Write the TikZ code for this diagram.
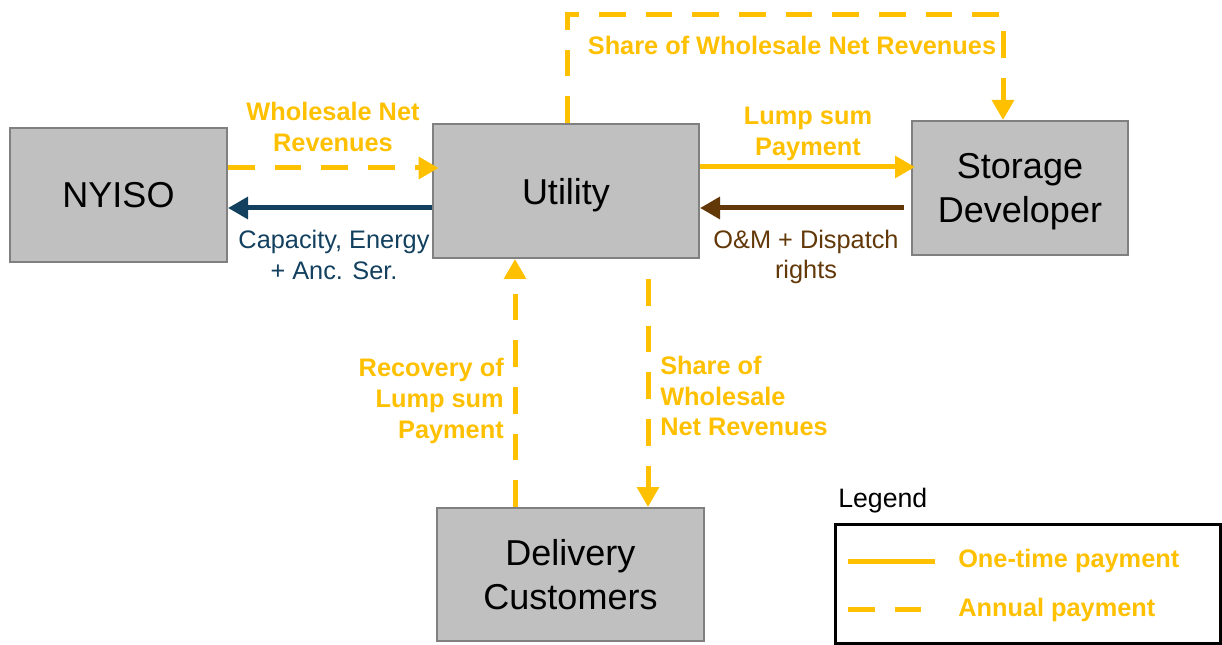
\documentclass[tikz,border=0pt]{standalone}
\usepackage{fontspec}
\setmainfont{Liberation Sans}
\usepackage{xcolor}
\usepackage{tikz}
\usetikzlibrary{arrows.meta}
\definecolor{paygold}{RGB}{255,192,0}
\definecolor{flowblue}{RGB}{18,64,94}
\definecolor{flowbrown}{RGB}{99,56,8}
\definecolor{boxgray}{RGB}{192,192,192}
\definecolor{edgegray}{RGB}{128,128,128}

\begin{document}
\begin{tikzpicture}[x=0.75pt, y=-0.75pt, every node/.style={font=\fontsize{19}{23}\selectfont}]
  \tikzstyle{party}=[rectangle, draw=edgegray, line width=1.5pt, fill=boxgray, align=center, font=\fontsize{27}{33}\selectfont, text depth=0pt, minimum height=100.5pt]
  \tikzstyle{flow}=[-{Triangle[length=15pt, width=16pt]}]
  \tikzstyle{onetime}=[paygold, line width=3.75pt]
  \tikzstyle{annual}=[onetime, dash pattern=on 20pt off 15pt]
  \tikzstyle{goldlbl}=[text=paygold, font=\bfseries\fontsize{19}{23}\selectfont, align=center, inner sep=0pt]
  \useasboundingbox (0,0) rectangle (1222,645);
  \node[party, minimum width=162.75pt] (nyiso) at (118.5,195) {NYISO};
  \node[party, minimum width=199.5pt] (utility) at (566,191) {Utility};
  \node[party, minimum width=162pt] (storage) at (1020,188) {Storage\\Developer};
  \node[party, minimum width=200.25pt, minimum height=99.75pt] (delivery) at (570.5,574.5) {Delivery\\Customers};
  \draw[annual, flow, shorten >=-5pt] (nyiso.east |- 0,168) -- (utility.west |- 0,168);
  \draw[flowblue, line width=3.75pt, flow] (utility.west |- 0,208) -- (nyiso.east |- 0,208);
  \draw[onetime, flow, shorten >=-3pt] (utility.east |- 0,167) -- (storage.west |- 0,167);
  \draw[flowbrown, line width=3.75pt, flow, shorten <=5pt] (storage.west |- 0,208) -- (utility.east |- 0,208);
  \draw[annual, flow] (utility.north -| 567,0) |- (1003,15) -- (storage.north -| 1003,0);
  \draw[annual, flow] (delivery.north -| 515,0) -- (utility.south -| 515,0);
  \draw[annual, flow, dash phase=20pt] (utility.south -| 648,0) -- (delivery.north -| 648,0);
  \node[goldlbl] (wnr) at (333,127) {Wholesale Net\\Revenues};
  \node[text=flowblue, align=center, inner sep=0pt] (cap) at (334,255) {Capacity, Energy\\+ Anc. Ser.};
  \node[goldlbl] (lump) at (808,134) {Lump sum\\Payment};
  \node[text=flowbrown, align=center, inner sep=0pt] (om) at (806,257) {O\&M + Dispatch\\rights};
  \node[goldlbl] (share) at (792,45) {Share of Wholesale Net Revenues};
  \node[goldlbl, align=right, anchor=east] (recov) at (504,401) {Recovery of\\Lump sum\\Payment};
  \node[goldlbl, align=left, anchor=west] (sharedown) at (660,396) {Share of\\Wholesale\\Net Revenues};
  \node[draw=black, line width=2.25pt, minimum width=288.75pt, minimum height=89.25pt] (legend) at (1027.5,583.5) {};
  \node[anchor=west, inner sep=0pt, font=\fontsize{20}{24}\selectfont] (legendtitle) at (838,501) {Legend};
  \coordinate (solidA) at (848,561);
  \coordinate (solidB) at (935,561);
  \coordinate (dashA) at (848,609);
  \coordinate (dashB) at (922,609);
  \draw[onetime] (solidA) -- (solidB);
  \draw[annual] (dashA) -- (dashB);
  \node[goldlbl, anchor=west, font=\bfseries\fontsize{19}{23}\selectfont] (onetimelbl) at (958,561) {One-time payment};
  \node[goldlbl, anchor=west, font=\bfseries\fontsize{19}{23}\selectfont] (annuallbl) at (958,610) {Annual payment};
\end{tikzpicture}
\end{document}
